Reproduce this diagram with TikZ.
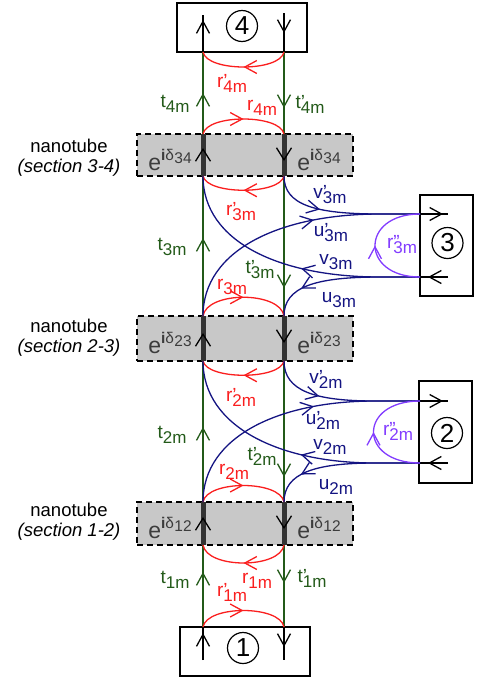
\documentclass[tikz,border=0pt]{standalone}
\usepackage{fontspec}
\setmainfont{Liberation Sans}
\usetikzlibrary{arrows.meta,decorations.markings}

\definecolor{gr}{RGB}{35,90,25}
\definecolor{nb}{RGB}{20,20,130}
\definecolor{rd}{RGB}{250,30,30}
\definecolor{pu}{RGB}{130,60,255}
\definecolor{tubefill}{RGB}{200,200,200}
\definecolor{tubetext}{RGB}{60,60,60}

\newcommand{\msub}[2]{#1\raisebox{-5pt}{\fontsize{17}{17}\selectfont #2}}
\newcommand{\mprime}[3]{#1\rlap{#2}\raisebox{-5pt}{\fontsize{17}{17}\selectfont #3}}
\newcommand{\ephase}[1]{{\fontsize{23}{23}\selectfont e}\raisebox{10pt}{\fontsize{15.5}{15.5}\selectfont\textbf{i}δ\kern0.3pt\raisebox{-3pt}{#1}}}

\tikzset{
  glin/.style={draw=gr,line width=1.3pt},
  blin/.style={draw=nb,line width=1.3pt},
  rlin/.style={draw=rd,line width=1.3pt},
  plin/.style={draw=pu,line width=1.3pt},
  klin/.style={draw=black,line width=1.3pt},
  boxnode/.style={draw,line width=1.3pt,inner sep=0pt,outer sep=0pt},
  tube/.style={draw,line width=1.2pt,dash pattern=on 6pt off 4pt,fill=tubefill,inner sep=0pt,outer sep=0pt,minimum width=216pt},
  numc/.style={circle,draw,line width=1.2pt,minimum size=31pt,inner sep=0pt,font=\fontsize{26}{26}\selectfont},
  bar/.style={draw=black!80,line width=5pt},
  arr/.style={postaction={decorate,decoration={markings,mark=at position #1 with {\arrow{Straight Barb[length=12pt,width=13pt]}}}}},
  barchev/.style={postaction={decorate,decoration={markings,mark=at position #1 with {\arrow{Straight Barb[length=12pt,width=15pt,line width=1.3pt,color=black]}}}}},
  glab/.style={text=gr},
  rlab/.style={text=rd},
  blab/.style={text=nb},
  plab/.style={text=pu},
  phase/.style={text=tubetext,anchor=base,inner sep=0pt},
  ntlab/.style={align=center,font=\fontsize{18.5}{20}\selectfont},
}

\begin{document}
\begin{tikzpicture}[x=1pt,y=-1pt,every node/.style={font=\fontsize{19}{20}\selectfont}]
\useasboundingbox (0,0) rectangle (477,686);

% reference verticals
\coordinate (L) at (203,0);
\coordinate (R) at (284,0);

% terminal boxes
\node[boxnode,minimum width=130pt,minimum height=49pt] (b4) at (242,27.5) {};
\node[numc] (c4) at (242,26) {4};
\node[boxnode,minimum width=130pt,minimum height=49pt] (b1) at (245,651.5) {};
\node[numc] (c1) at (243,648) {1};
\node[boxnode,minimum width=53pt,minimum height=101pt] (b3) at (446.5,245.5) {};
\node[numc] (c3) at (447.5,243) {3};
\node[boxnode,minimum width=53pt,minimum height=102pt] (b2) at (445.5,432) {};
\node[numc] (c2) at (447,433) {2};

% nanotube sections
\node[tube,minimum height=42pt] (n34) at (245,155) {};
\node[tube,minimum height=45pt] (n23) at (245,338.5) {};
\node[tube,minimum height=43pt] (n12) at (245,523.5) {};

\node[ntlab] (nt34) at (69,158) {nanotube\\\textit{(section 3-4)}};
\node[ntlab] (nt23) at (69,338) {nanotube\\\textit{(section 2-3)}};
\node[ntlab] (nt12) at (69,522) {nanotube\\\textit{(section 1-2)}};

% green transmission lines
\draw[glin,arr=55pt]  (b1.north -| L) -- (n12.south -| L);
\draw[glin,arr=75pt]  (n12.north -| L) -- (n23.south -| L);
\draw[glin,arr=78pt]  (n23.north -| L) -- (n34.south -| L);
\draw[glin,arr=41pt]  (n34.north -| L) -- (b4.south -| L);
\draw[glin,arr=56pt]  (b4.south -| R) -- (n34.north -| R);
\draw[glin,arr=112pt] (n34.south -| R) -- (n23.north -| R);
\draw[glin,arr=116pt] (n23.south -| R) -- (n12.north -| R);
\draw[glin,arr=38pt]  (n12.south -| R) -- (b1.north -| R);

% bars inside nanotubes
\draw[bar,barchev=28pt] (n34.south -| L) -- (n34.north -| L);
\draw[bar,barchev=27pt] (n34.north -| R) -- (n34.south -| R);
\draw[bar,barchev=28pt] (n23.south -| L) -- (n23.north -| L);
\draw[bar,barchev=27pt] (n23.north -| R) -- (n23.south -| R);
\draw[bar,barchev=28pt] (n12.south -| L) -- (n12.north -| L);
\draw[bar,barchev=27pt] (n12.north -| R) -- (n12.south -| R);

\node[phase] (p34l) at (170,170) {\ephase{34}};
\node[phase] (p34r) at (319,170) {\ephase{34}};
\node[phase] (p23l) at (170,353) {\ephase{23}};
\node[phase] (p23r) at (319,353) {\ephase{23}};
\node[phase] (p12l) at (170,538) {\ephase{12}};
\node[phase] (p12r) at (319,538) {\ephase{12}};

% lines inside terminal boxes 4 and 1
\coordinate (b4Ltop) at (203,15);
\coordinate (b4Rtop) at (284,13);
\coordinate (b1Lbot) at (203,660);
\coordinate (b1Rbot) at (284,660);
\draw[klin,arr=32pt] (b4.south -| L) -- (b4Ltop);
\draw[klin,arr=20pt] (b4Rtop) -- (b4.south -| R);
\draw[klin,arr=27pt] (b1Lbot) -- (b1.north -| L);
\draw[klin,arr=20pt] (b1.north -| R) -- (b1Rbot);

% ports of boxes 3 and 2
\coordinate (b3in)  at (420,214);
\coordinate (b3out) at (420,277);
\coordinate (b3inE) at (448,214);
\coordinate (b3outE) at (448,277);
\coordinate (b2in)  at (420,401);
\coordinate (b2out) at (420,463);
\coordinate (b2inE) at (448,401);
\coordinate (b2outE) at (448,463);
\coordinate (m3u) at (380,214);
\coordinate (m3d) at (380,277);
\coordinate (m2u) at (375,401);
\coordinate (m2d) at (375,463);

\draw[klin,arr=23pt] (b3in) -- (b3inE);
\draw[klin,arr=20pt] (b3outE) -- (b3out);
\draw[klin,arr=23pt] (b2in) -- (b2inE);
\draw[klin,arr=20pt] (b2outE) -- (b2out);

% red reflection arcs
\draw[rlin,arr=0.5] (b4.south -| R) .. controls +(-4,20) and +(4,20) .. (b4.south -| L);
\draw[rlin,arr=0.5] (n34.north -| L) .. controls +(4,-20) and +(-4,-20) .. (n34.north -| R);
\draw[rlin,arr=0.5] (n34.south -| R) .. controls +(-4,19) and +(4,19) .. (n34.south -| L);
\draw[rlin,arr=0.5] (n23.north -| L) .. controls +(4,-25) and +(-4,-25) .. (n23.north -| R);
\draw[rlin,arr=0.5] (n23.south -| R) .. controls +(-4,19) and +(4,19) .. (n23.south -| L);
\draw[rlin,arr=0.5] (n12.north -| L) .. controls +(4,-22) and +(-4,-22) .. (n12.north -| R);
\draw[rlin,arr=0.5] (n12.south -| R) .. controls +(-4,24) and +(4,24) .. (n12.south -| L);
\draw[rlin,arr=0.5] (b1.north -| L) .. controls +(4,-22) and +(-4,-22) .. (b1.north -| R);

% blue couplings to box 3
\draw[blin,arr=0.35] (n34.south -| R) .. controls +(0,29) and +(-65,0) .. (m3u) -- (b3in);
\draw[blin,arr=0.6] (n23.north -| L) .. controls +(0,-66) and +(-100,0) .. (m3u) -- (b3in);
\draw[blin,arr=0.45] (b3out) -- (m3d) .. controls +(-100,0) and +(0,66) .. (n34.south -| L);
\draw[blin,arr=0.78] (b3out) -- (m3d) .. controls +(-65,0) and +(0,-29) .. (n23.north -| R);

% blue couplings to box 2
\draw[blin,arr=0.35] (n23.south -| R) .. controls +(0,30) and +(-60,0) .. (m2u) -- (b2in);
\draw[blin,arr=0.6] (n12.north -| L) .. controls +(0,-66) and +(-95,0) .. (m2u) -- (b2in);
\draw[blin,arr=0.45] (b2out) -- (m2d) .. controls +(-95,0) and +(0,66) .. (n23.south -| L);
\draw[blin,arr=0.78] (b2out) -- (m2d) .. controls +(-60,0) and +(0,-29) .. (n12.north -| R);

% purple reflections at boxes 3 and 2
\draw[plin,arr=0.5] (b3out) .. controls +(-60,0) and +(-60,0) .. (b3in);
\draw[plin,arr=0.5] (b2out) .. controls +(-62,0) and +(-62,0) .. (b2in);

% labels
\node[rlab] (lr4p) at (232,83)  {\mprime{r}{’}{4m}};
\node[glab] (lt4)  at (175,104) {\msub{t}{4m}};
\node[glab] (lt4p) at (310,104) {\mprime{t}{’}{4m}};
\node[rlab] (lr4)  at (262,108) {\msub{r}{4m}};

\node[rlab] (lr3p) at (241,212) {\mprime{r}{’}{3m}};
\node[glab] (lt3)  at (172,247) {\msub{t}{3m}};
\node[glab] (lt3p) at (260,270) {\mprime{t}{’}{3m}};
\node[rlab] (lr3)  at (232,287) {\msub{r}{3m}};
\node[blab] (lv3p) at (330,195) {\mprime{v}{’}{3m}};
\node[blab] (lu3p) at (331,233) {\mprime{u}{’}{3m}};
\node[blab] (lv3)  at (336,262) {\msub{v}{3m}};
\node[blab] (lu3)  at (339,300) {\msub{u}{3m}};
\node[plab] (lr3pp) at (402,245) {\mprime{r}{”}{3m}};

\node[rlab] (lr2p) at (241,397) {\mprime{r}{’}{2m}};
\node[glab] (lt2)  at (172,435) {\msub{t}{2m}};
\node[glab] (lt2p) at (262,456) {\mprime{t}{’}{2m}};
\node[rlab] (lr2)  at (234,472) {\msub{r}{2m}};
\node[blab] (lv2p) at (326,379) {\mprime{v}{’}{2m}};
\node[blab] (lu2p) at (323,420) {\mprime{u}{’}{2m}};
\node[blab] (lv2)  at (330,447) {\msub{v}{2m}};
\node[blab] (lu2)  at (336,487) {\msub{u}{2m}};
\node[plab] (lr2pp) at (398,431) {\mprime{r}{”}{2m}};

\node[glab] (lt1)  at (175,580) {\msub{t}{1m}};
\node[glab] (lt1p) at (312,578) {\mprime{t}{’}{1m}};
\node[rlab] (lr1)  at (257,581) {\msub{r}{1m}};
\node[rlab] (lr1p) at (232,592) {\mprime{r}{’}{1m}};
\end{tikzpicture}
\end{document}
